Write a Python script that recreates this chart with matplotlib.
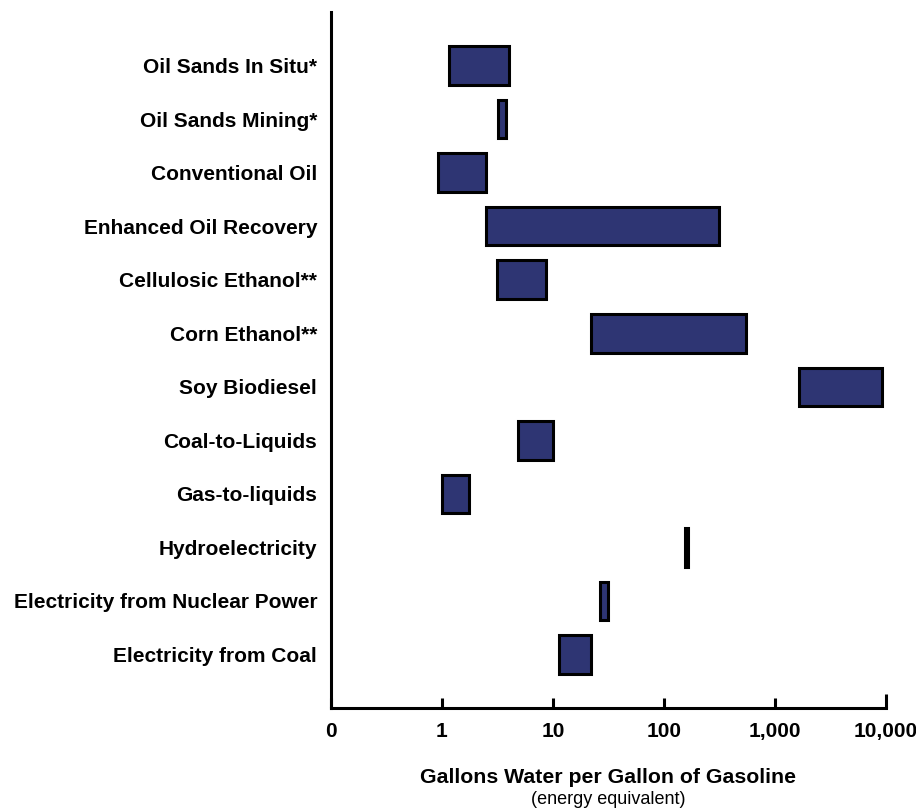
import matplotlib
matplotlib.use("Agg")
import matplotlib.pyplot as plt

plt.rcParams['font.family'] = ['Liberation Sans', 'DejaVu Sans']

# water use ranges (gallons water per gallon gasoline equivalent)
categories = ["Oil Sands In Situ*", "Oil Sands Mining*", "Conventional Oil",
              "Enhanced Oil Recovery", "Cellulosic Ethanol**", "Corn Ethanol**",
              "Soy Biodiesel", "Coal-to-Liquids", "Gas-to-liquids",
              "Hydroelectricity", "Electricity from Nuclear Power",
              "Electricity from Coal"]
low = [1.16, 3.2, 0.93, 2.5, 3.15, 22, 1650, 4.85, 1.0, 156, 26.5, 11.4]
high = [4.05, 3.75, 2.5, 312, 8.7, 550, 9300, 10.0, 1.75, 164, 31.5, 22.2]

tick_vals = [0.1, 1, 10, 100, 1000, 10000]
tick_labels = ["0", "1", "10", "100", "1,000", "10,000"]

fig = plt.figure(figsize=(9.16, 8.10), dpi=100)
ax = fig.add_axes([0.3614, 0.1259, 0.6054, 0.8593])

ypos = list(range(len(categories)))
widths = [h - l for l, h in zip(low, high)]
ax.barh(ypos, widths, left=low, height=0.72, color='#2e3573',
        edgecolor='black', linewidth=2.2)

ax.set_xscale('log')
ax.set_xlim(0.1, 10000)
ax.set_ylim(12, -1)
ax.set_xticks(tick_vals)
ax.set_xticklabels(tick_labels, fontsize=15, fontweight='bold')
ax.minorticks_off()
ax.set_yticks(ypos)
ax.set_yticklabels(categories, fontsize=15, fontweight='bold')

for s in ['top', 'right']:
    ax.spines[s].set_visible(False)
for s in ['left', 'bottom']:
    ax.spines[s].set_linewidth(2.2)

ax.tick_params(axis='x', direction='in', length=7, width=2.2, pad=10)
ax.tick_params(axis='y', length=0, pad=10)
ax.xaxis.get_major_ticks()[-1].tick1line.set_markersize(10)

ax.text(0.5, -0.1005, "Gallons Water per Gallon of Gasoline", transform=ax.transAxes,
        ha='center', va='center', fontsize=15.3, fontweight='bold')
ax.text(0.5, -0.132, "(energy equivalent)", transform=ax.transAxes,
        ha='center', va='center', fontsize=13)

fig.savefig("out.png", dpi=100)
